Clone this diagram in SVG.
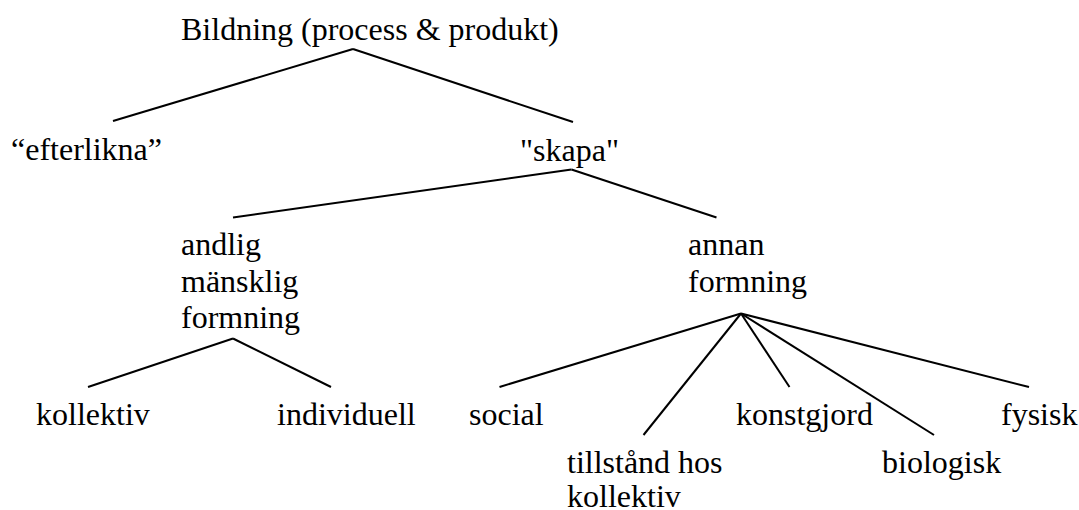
<svg xmlns="http://www.w3.org/2000/svg" width="1079" height="510" viewBox="0 0 1079 510">
<style>
.c line{stroke:#000;stroke-width:2;stroke-linecap:butt}
</style>
<rect width="1079" height="510" fill="#fff"/>
<g class="c" id="connectors">
<line x1="353" y1="49" x2="113" y2="121"/>
<line x1="353" y1="49" x2="573" y2="122"/>
<line x1="571.5" y1="169.5" x2="233" y2="217.5"/>
<line x1="571.5" y1="169.5" x2="716.5" y2="217.5"/>
<line x1="233" y1="338.5" x2="88" y2="387"/>
<line x1="233" y1="338.5" x2="331" y2="387"/>
<line x1="741" y1="313.5" x2="499.5" y2="387"/>
<line x1="741" y1="313.5" x2="643.5" y2="435"/>
<line x1="741" y1="313.5" x2="789.5" y2="387"/>
<line x1="741" y1="313.5" x2="934" y2="435"/>
<line x1="741" y1="313.5" x2="1029" y2="387"/>
</g>
<g font-family="Liberation Serif" font-size="32" fill="#000">
<g id="n-bildning"><text x="181" y="40">Bildning (process &amp; produkt)</text></g>
<g id="n-efterlikna"><text x="11" y="160">“efterlikna”</text></g>
<g id="n-skapa"><text x="520" y="161">"skapa"</text></g>
<g id="n-andlig"><text x="181" y="255">andlig</text><text x="181" y="291.7">mänsklig</text><text x="181" y="328.3">formning</text></g>
<g id="n-annan"><text x="688" y="255">annan</text><text x="688" y="291.7">formning</text></g>
<g id="n-kollektiv"><text x="36" y="425">kollektiv</text></g>
<g id="n-individuell"><text x="277" y="425">individuell</text></g>
<g id="n-social"><text x="469" y="425">social</text></g>
<g id="n-tillstand"><text x="567" y="472.7">tillstånd hos</text><text x="567" y="507">kollektiv</text></g>
<g id="n-konstgjord"><text x="736" y="425">konstgjord</text></g>
<g id="n-biologisk"><text x="882" y="472.7">biologisk</text></g>
<g id="n-fysisk"><text x="1001" y="425">fysisk</text></g>
</g>
</svg>
